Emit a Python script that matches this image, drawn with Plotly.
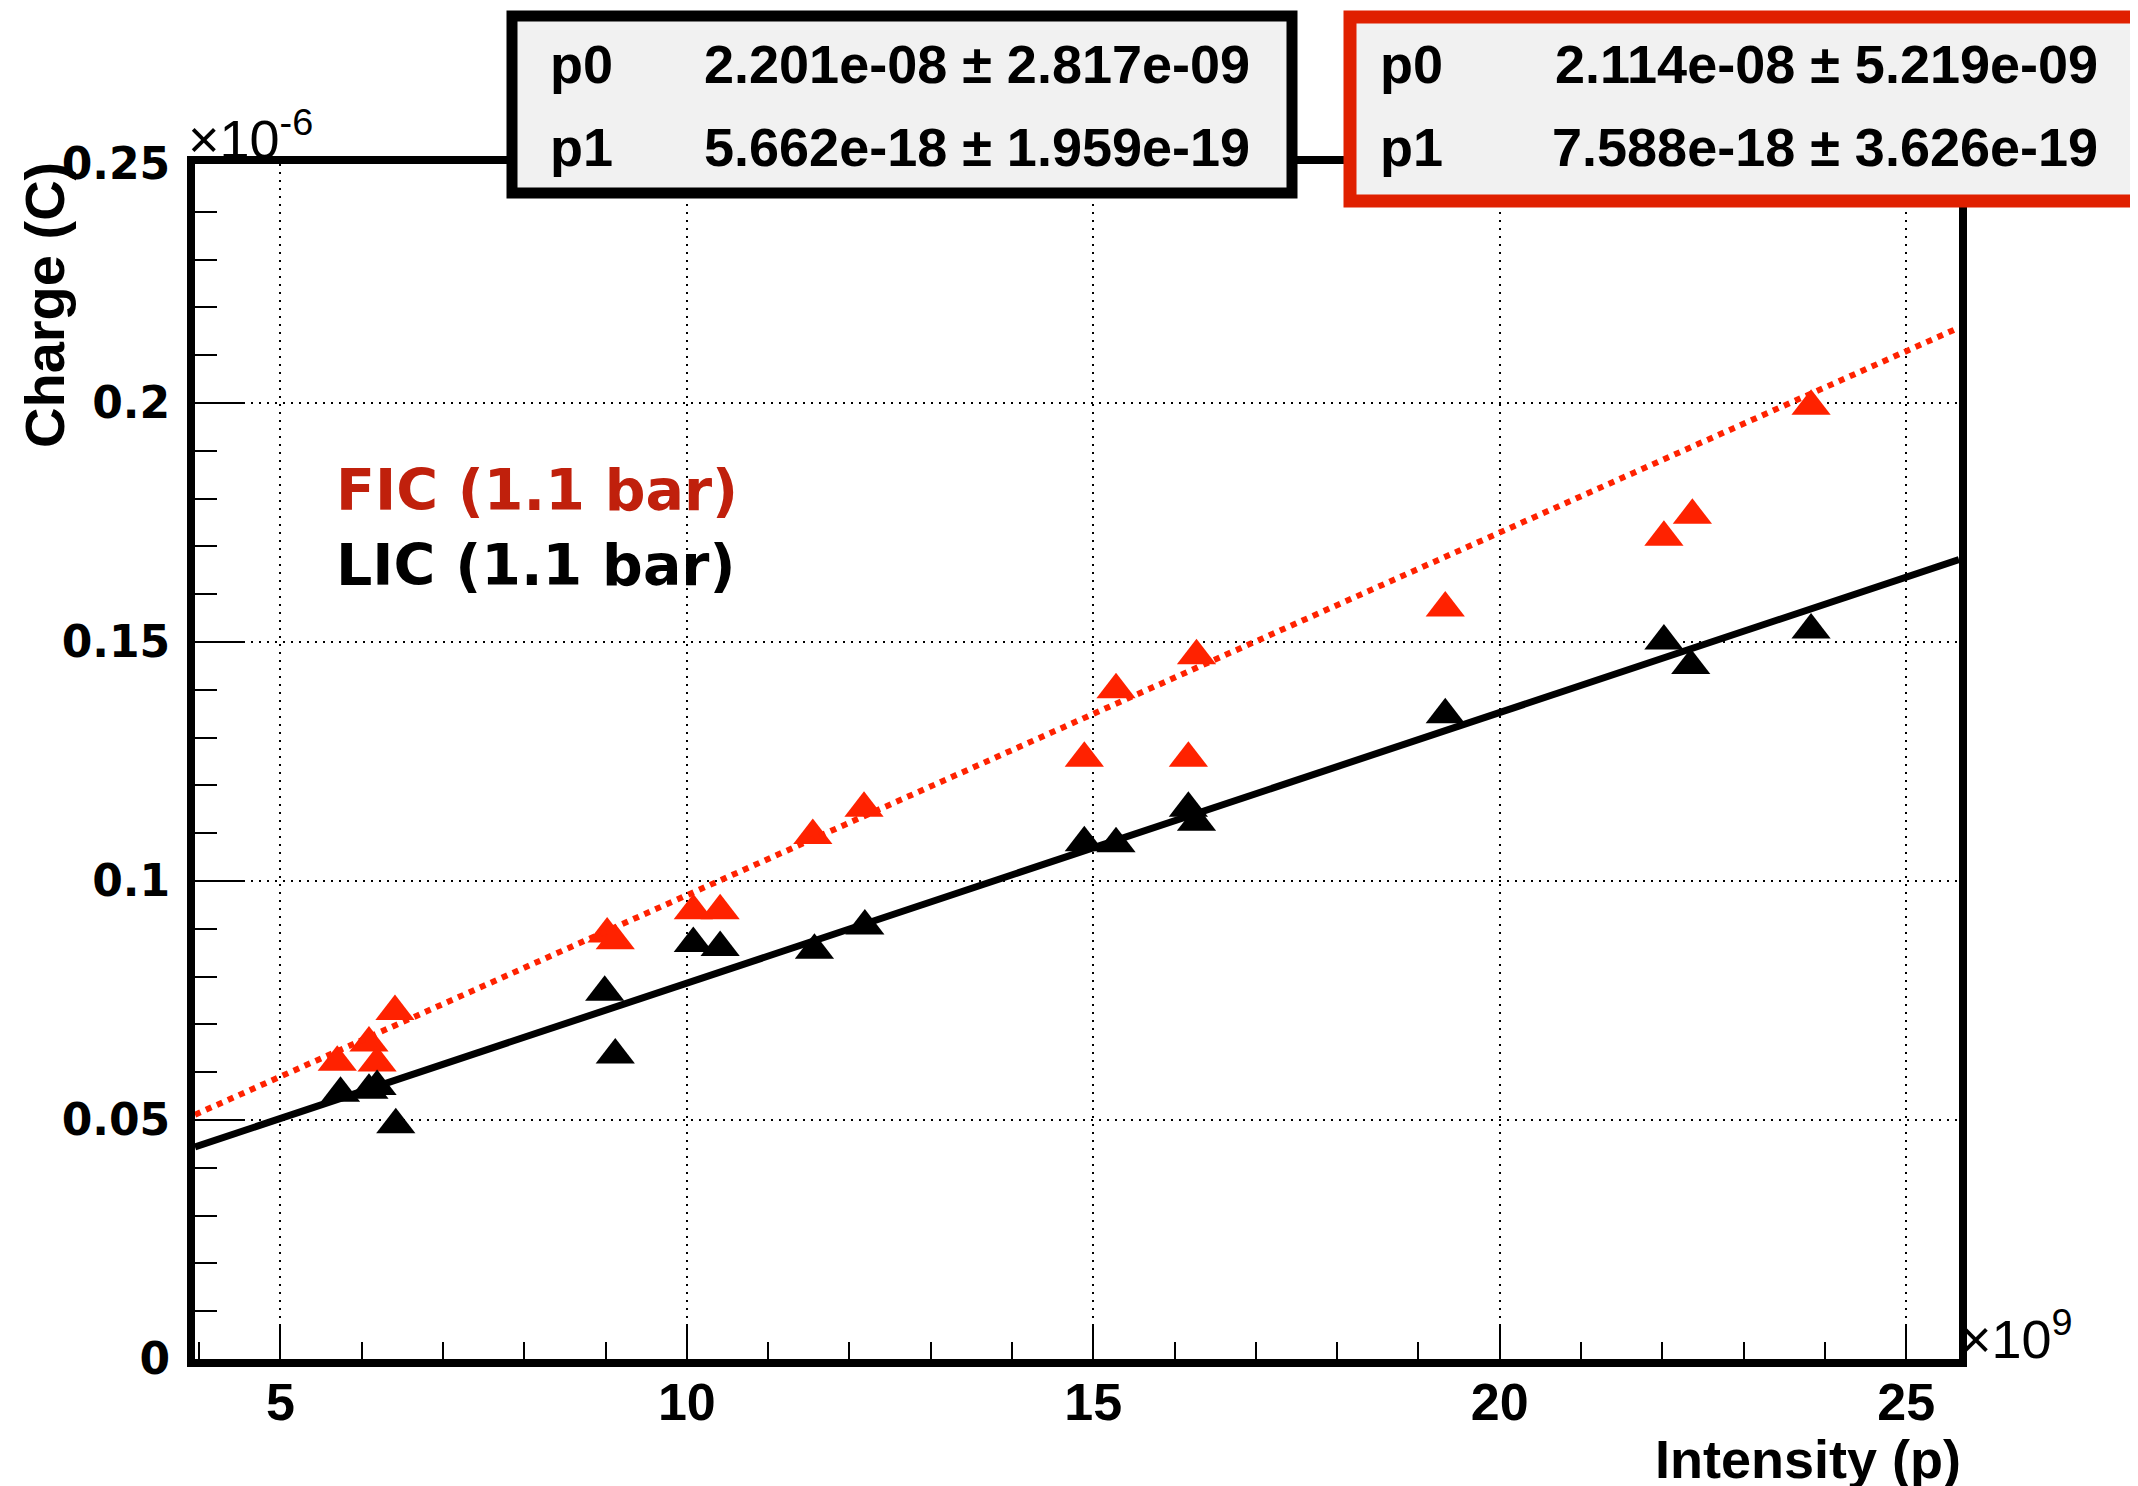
import plotly.graph_objects as go

# ---- data (x in units of 1e9 protons, y in units of 1e-6 C) ----
fic_x = [5.70, 6.09, 6.19, 6.41, 9.02, 9.12, 10.08, 10.41, 11.55, 12.18,
         14.89, 15.28, 16.17, 16.27, 19.33, 22.02, 22.37, 23.83]
fic_y = [0.0621, 0.0661, 0.0619, 0.0727, 0.0889, 0.0875, 0.0938, 0.0938, 0.1095, 0.1152,
         0.1257, 0.1400, 0.1257, 0.1471, 0.1571, 0.1719, 0.1765, 0.1993]
lic_x = [5.74, 6.09, 6.19, 6.42, 8.99, 9.12, 10.08, 10.41, 11.57, 12.19,
         14.89, 15.28, 16.17, 16.27, 19.33, 22.02, 22.35, 23.83]
lic_y = [0.0556, 0.0562, 0.0570, 0.0490, 0.0767, 0.0636, 0.0869, 0.0861, 0.0855, 0.0906,
         0.1080, 0.1078, 0.1152, 0.1123, 0.1348, 0.1502, 0.1451, 0.1525]

# fit parameters (SI units) as printed in the stat boxes
lic_p0, lic_p0_err, lic_p1, lic_p1_err = 2.201e-08, 2.817e-09, 5.662e-18, 1.959e-19
fic_p0, fic_p0_err, fic_p1, fic_p1_err = 2.114e-08, 5.219e-09, 7.588e-18, 3.626e-19

x_range = [3.95, 25.65]
y_range = [0, 0.25]
x_ticks = [5, 10, 15, 20, 25]
y_ticks = [0, 0.05, 0.1, 0.15, 0.2, 0.25]
y_ticklabels = ["0", "0.05", "0.1", "0.15", "0.2", "0.25"]

XS, YS = 1e9, 1e-6


def fit_line(p0, p1):
    xs = list(x_range)
    return xs, [(p0 + p1 * x * XS) / YS for x in xs]


W, H = 2138, 1486
OFF = 8  # page body margin
# plot area in page pixel coordinates
L, R, T, B = 195, 1959, 164, 1359


def px(x):
    return (x - L) / (R - L)


def py(y):
    return (B - y) / (B - T)


RED_M = "#ff2200"
RED_T = "#c0200c"
RED_BOX = "#e02000"

fig = go.Figure()
fig.add_trace(go.Scatter(x=fic_x, y=fic_y, mode="markers",
                         marker=dict(symbol="triangle-up", size=34, color=RED_M),
                         showlegend=False, cliponaxis=False))
fig.add_trace(go.Scatter(x=lic_x, y=lic_y, mode="markers",
                         marker=dict(symbol="triangle-up", size=34, color="black"),
                         showlegend=False, cliponaxis=False))
fx, fy = fit_line(lic_p0, lic_p1)
fig.add_trace(go.Scatter(x=fx, y=fy, mode="lines", line=dict(color="black", width=7),
                         showlegend=False))
fx, fy = fit_line(fic_p0, fic_p1)
fig.add_trace(go.Scatter(x=fx, y=fy, mode="lines",
                         line=dict(color=RED_M, width=6, dash="6px,6px"),
                         showlegend=False))

tickfont_x = dict(family="Liberation Sans", size=52, color="black", weight="bold")
tickfont_y = dict(family="DejaVu Sans", size=44, color="black", weight="bold")

fig.update_xaxes(range=x_range, tickmode="array", tickvals=x_ticks,
                 ticktext=[str(v) for v in x_ticks],
                 ticks="inside", ticklen=35, tickwidth=2, tickcolor="black",
                 showline=True, linewidth=8, linecolor="black", mirror=True,
                 showgrid=True, gridcolor="black", gridwidth=2, griddash="2px,6px",
                 zeroline=False, tickfont=tickfont_x, ticklabelstandoff=-9,
                 minor=dict(ticks="inside", ticklen=17, tickwidth=2, tickcolor="black",
                            dtick=1, tick0=0, showgrid=False))
fig.update_yaxes(range=y_range, tickmode="array", tickvals=y_ticks, ticktext=y_ticklabels,
                 ticks="inside", ticklen=48, tickwidth=2, tickcolor="black",
                 showline=True, linewidth=8, linecolor="black", mirror=True,
                 showgrid=True, gridcolor="black", gridwidth=2, griddash="2px,6px",
                 zeroline=False, tickfont=tickfont_y, ticklabelstandoff=8,
                 minor=dict(ticks="inside", ticklen=22, tickwidth=2, tickcolor="black",
                            dtick=0.01, tick0=0, showgrid=False))

shapes = [
    dict(type="rect", xref="paper", yref="paper",
         x0=px(512), x1=px(1292), y0=py(193), y1=py(16),
         line=dict(color="black", width=11), fillcolor="#f1f1f1", layer="above"),
    dict(type="rect", xref="paper", yref="paper",
         x0=px(1350), x1=px(2160), y0=py(201), y1=py(17),
         line=dict(color=RED_BOX, width=13), fillcolor="#f1f1f1", layer="above"),
]

boxfont = dict(family="Liberation Sans", size=54, color="black", weight="bold")
ann = []


def stat_rows(xl, xr, rows):
    for name, val, err, yc in rows:
        ann.append(dict(text=name, x=px(xl), y=py(yc), xref="paper", yref="paper",
                        xanchor="left", yanchor="middle", showarrow=False, font=boxfont))
        ann.append(dict(text=f"{val:.3e} \u00b1 {err:.3e}", x=px(xr), y=py(yc),
                        xref="paper", yref="paper", xanchor="right", yanchor="middle",
                        showarrow=False, font=boxfont))


stat_rows(548, 1252, [("p0", lic_p0, lic_p0_err, 64), ("p1", lic_p1, lic_p1_err, 147)])
stat_rows(1378, 2100, [("p0", fic_p0, fic_p0_err, 64), ("p1", fic_p1, fic_p1_err, 147)])

legfont = dict(family="DejaVu Sans", size=57, weight="bold")
ann.append(dict(text="FIC (1.1 bar)", x=px(334), y=py(490), xref="paper", yref="paper",
                xanchor="left", yanchor="middle", showarrow=False,
                font=dict(legfont, color=RED_T)))
ann.append(dict(text="LIC (1.1 bar)", x=px(334), y=py(565), xref="paper", yref="paper",
                xanchor="left", yanchor="middle", showarrow=False,
                font=dict(legfont, color="black")))

ann.append(dict(text="Charge (C)", x=px(45), y=py(160), xref="paper", yref="paper",
                xanchor="center", yanchor="top", textangle=-90, showarrow=False,
                font=dict(family="Liberation Sans", size=56, color="black", weight="bold")))
ann.append(dict(text="Intensity (p)", x=px(1962), y=py(1490), xref="paper", yref="paper",
                xanchor="right", yanchor="bottom", showarrow=False, borderpad=0,
                font=dict(family="Liberation Sans", size=54, color="black", weight="bold")))
ann.append(dict(text="\u00d710<sup>-6</sup>", x=px(186), y=py(171), xref="paper", yref="paper",
                xanchor="left", yanchor="bottom", showarrow=False,
                font=dict(family="Liberation Sans", size=54, color="black")))
ann.append(dict(text="\u00d710<sup>9</sup>", x=px(1958), y=py(1371), xref="paper", yref="paper",
                xanchor="left", yanchor="bottom", showarrow=False,
                font=dict(family="Liberation Sans", size=54, color="black")))

fig.update_layout(width=W, height=H,
                  margin=dict(l=L - OFF, r=(W + OFF) - R, t=T - OFF, b=(H + OFF) - B),
                  paper_bgcolor="white", plot_bgcolor="white",
                  shapes=shapes, annotations=ann, showlegend=False)

fig.write_html("out.html")
